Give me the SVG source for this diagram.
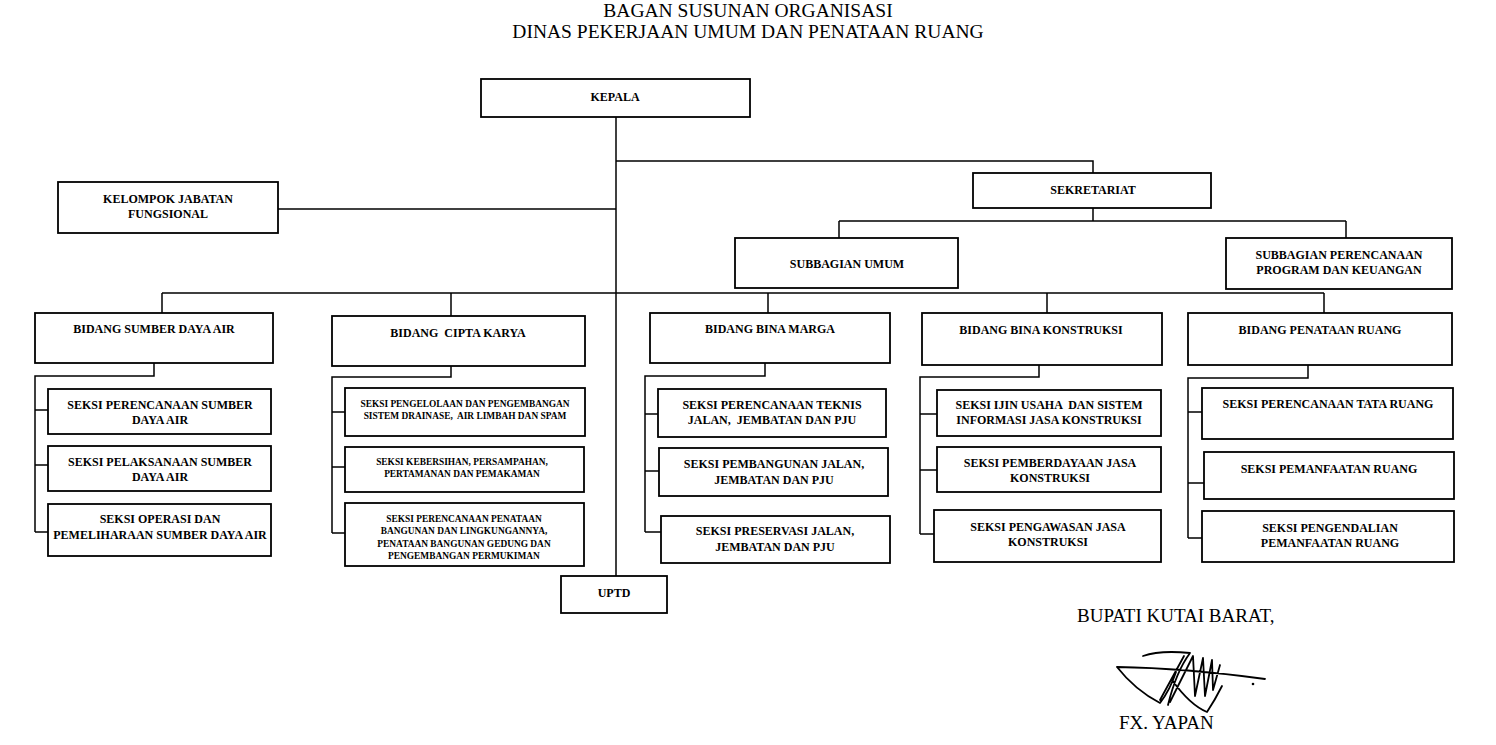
<svg xmlns="http://www.w3.org/2000/svg" width="1496" height="745" viewBox="0 0 1496 745">
<style>
.bg{fill:#fff}
.box{fill:#fff;stroke:#000;stroke-width:1.8}
.con{fill:none;stroke:#000;stroke-width:1.5}
.t{font-family:"Liberation Serif",serif;font-weight:bold;font-size:12px;text-anchor:middle;fill:#000}
.ts{font-family:"Liberation Serif",serif;font-weight:bold;font-size:9.4px;text-anchor:middle;fill:#000}
.title{font-family:"Liberation Serif",serif;font-size:19.5px;text-anchor:middle;fill:#000}
.sig{font-family:"Liberation Serif",serif;font-size:19px;fill:#000}
</style>
<rect class="bg" x="0" y="0" width="1496" height="745"/>
<g id="title">
<text class="title" x="748" y="17">BAGAN SUSUNAN ORGANISASI</text>
<text class="title" x="748" y="38">DINAS PEKERJAAN UMUM DAN PENATAAN RUANG</text>
</g>
<g id="connectors" class="con">
<path d="M616,117 V576"/>
<path d="M616,161 H1093 V173"/>
<path d="M1093,208 V221 M839,221 H1346 M839,221 V238 M1346,221 V238"/>
<path d="M278,209 H616"/>
<path d="M162,293 H1324 M162,293 V313 M451,293 V316 M768,293 V313 M1047,293 V313 M1324,293 V313"/>
<path d="M154,363 V376 H35 V532 M35,410 H48 M35,465 H48 M35,532 H48"/>
<path d="M451,366 V377 H332 V533 M332,412 H345 M332,467 H345 M332,533 H345"/>
<path d="M765,363 V376 H645 V532 M645,414 H658 M645,471 H659 M645,532 H661"/>
<path d="M1039,365 V377 H920 V534 M920,414 H937 M920,470 H937 M920,534 H934"/>
<path d="M1308,365 V378 H1188 V538 M1188,412 H1202 M1188,483 H1204 M1188,538 H1202"/>
</g>
<g id="kepala"><rect class="box" x="481" y="79" width="269" height="38"/><text class="t" x="615" y="101">KEPALA</text></g>
<g id="sekretariat"><rect class="box" x="973" y="173" width="238" height="35"/><text class="t" x="1093" y="194">SEKRETARIAT</text></g>
<g id="subbagian-umum"><rect class="box" x="735" y="238" width="223" height="50"/><text class="t" x="847" y="268">SUBBAGIAN UMUM</text></g>
<g id="subbagian-perencanaan"><rect class="box" x="1226" y="238" width="226" height="51"/><text class="t" x="1339" y="259">SUBBAGIAN PERENCANAAN</text><text class="t" x="1339" y="274">PROGRAM DAN KEUANGAN</text></g>
<g id="kelompok-jabatan"><rect class="box" x="58" y="182" width="220" height="51"/><text class="t" x="168" y="203">KELOMPOK JABATAN</text><text class="t" x="168" y="218">FUNGSIONAL</text></g>
<g id="bidang-sda"><rect class="box" x="35" y="313" width="238" height="50"/><text class="t" x="154" y="333">BIDANG SUMBER DAYA AIR</text></g>
<g id="bidang-ck"><rect class="box" x="332" y="316" width="253" height="50"/><text class="t" x="458" y="337" xml:space="preserve">BIDANG  CIPTA KARYA</text></g>
<g id="bidang-bm"><rect class="box" x="650" y="313" width="240" height="50"/><text class="t" x="770" y="333">BIDANG BINA MARGA</text></g>
<g id="bidang-bk"><rect class="box" x="922" y="313" width="240" height="52"/><text class="t" x="1041" y="334">BIDANG BINA KONSTRUKSI</text></g>
<g id="bidang-pr"><rect class="box" x="1188" y="313" width="264" height="52"/><text class="t" x="1320" y="334">BIDANG PENATAAN RUANG</text></g>
<g id="sda-1"><rect class="box" x="48" y="389" width="223" height="45"/><text class="t" x="160" y="409">SEKSI PERENCANAAN SUMBER</text><text class="t" x="160" y="424">DAYA AIR</text></g>
<g id="sda-2"><rect class="box" x="48" y="446" width="223" height="45"/><text class="t" x="160" y="466">SEKSI PELAKSANAAN SUMBER</text><text class="t" x="160" y="481">DAYA AIR</text></g>
<g id="sda-3"><rect class="box" x="48" y="504" width="223" height="52"/><text class="t" x="160" y="523">SEKSI OPERASI DAN</text><text class="t" x="160" y="539">PEMELIHARAAN SUMBER DAYA AIR</text></g>
<g id="ck-1"><rect class="box" x="345" y="388" width="240" height="48"/><text class="ts" x="465" y="407">SEKSI PENGELOLAAN DAN PENGEMBANGAN</text><text class="ts" x="465" y="419" xml:space="preserve">SISTEM DRAINASE,  AIR LIMBAH DAN SPAM</text></g>
<g id="ck-2"><rect class="box" x="345" y="447" width="239" height="45"/><text class="ts" x="462" y="465">SEKSI KEBERSIHAN, PERSAMPAHAN,</text><text class="ts" x="462" y="477">PERTAMANAN DAN PEMAKAMAN</text></g>
<g id="ck-3"><rect class="box" x="345" y="503" width="239" height="63"/><text class="ts" x="464" y="522">SEKSI PERENCANAAN PENATAAN</text><text class="ts" x="464" y="534">BANGUNAN DAN LINGKUNGANNYA,</text><text class="ts" x="464" y="547">PENATAAN BANGUNAN GEDUNG DAN</text><text class="ts" x="464" y="559">PENGEMBANGAN PERMUKIMAN</text></g>
<g id="bm-1"><rect class="box" x="658" y="389" width="228" height="48"/><text class="t" x="772" y="409">SEKSI PERENCANAAN TEKNIS</text><text class="t" x="772" y="424" xml:space="preserve">JALAN,  JEMBATAN DAN PJU</text></g>
<g id="bm-2"><rect class="box" x="659" y="448" width="229" height="48"/><text class="t" x="774" y="468">SEKSI PEMBANGUNAN JALAN,</text><text class="t" x="774" y="484">JEMBATAN DAN PJU</text></g>
<g id="bm-3"><rect class="box" x="661" y="516" width="229" height="47"/><text class="t" x="775" y="535">SEKSI PRESERVASI JALAN,</text><text class="t" x="775" y="551">JEMBATAN DAN PJU</text></g>
<g id="bk-1"><rect class="box" x="937" y="390" width="224" height="46"/><text class="t" x="1049" y="409" xml:space="preserve">SEKSI IJIN USAHA  DAN SISTEM</text><text class="t" x="1049" y="424">INFORMASI JASA KONSTRUKSI</text></g>
<g id="bk-2"><rect class="box" x="937" y="447" width="224" height="45"/><text class="t" x="1050" y="467">SEKSI PEMBERDAYAAN JASA</text><text class="t" x="1050" y="482">KONSTRUKSI</text></g>
<g id="bk-3"><rect class="box" x="934" y="510" width="227" height="52"/><text class="t" x="1048" y="531">SEKSI PENGAWASAN JASA</text><text class="t" x="1048" y="546">KONSTRUKSI</text></g>
<g id="pr-1"><rect class="box" x="1202" y="388" width="251" height="51"/><text class="t" x="1328" y="408">SEKSI PERENCANAAN TATA RUANG</text></g>
<g id="pr-2"><rect class="box" x="1204" y="452" width="250" height="47"/><text class="t" x="1329" y="473">SEKSI PEMANFAATAN RUANG</text></g>
<g id="pr-3"><rect class="box" x="1202" y="511" width="252" height="51"/><text class="t" x="1330" y="532">SEKSI PENGENDALIAN</text><text class="t" x="1330" y="547">PEMANFAATAN RUANG</text></g>
<g id="uptd"><rect class="box" x="561" y="576" width="106" height="37"/><text class="t" x="614" y="597">UPTD</text></g>
<g id="signature">
<text class="sig" x="1077" y="622">BUPATI KUTAI BARAT,</text>
<path d="M1117,667 Q1185,668 1265,679 M1117,667 Q1135,690 1160,703 Q1170,690 1176,672 M1172,680 Q1190,705 1207,712 Q1215,700 1222,686 M1143,656 Q1160,650 1190,653 M1190,653 Q1176,672 1168,705 M1160,700 L1184,656 M1170,702 L1193,656 L1195,696 L1203,658 L1205,696 L1212,660 L1213,690 L1220,665" fill="none" stroke="#000" stroke-width="1.8" stroke-linejoin="round" stroke-linecap="round"/>
<circle cx="1253" cy="684" r="1.3" fill="#000"/>
<text class="sig" x="1119" y="729">FX. YAPAN</text>
</g>
</svg>
